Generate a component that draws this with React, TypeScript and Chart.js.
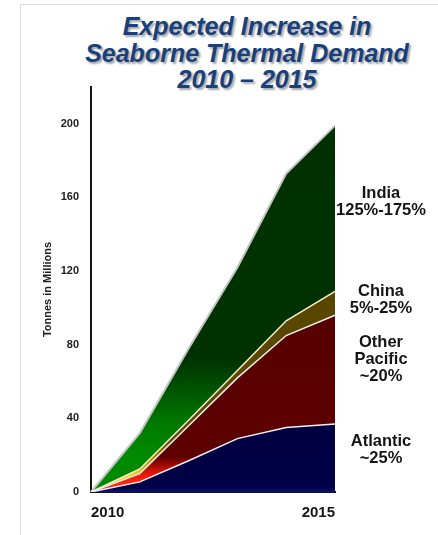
import React, { useEffect, useRef } from "react";
import { Chart, registerables } from "chart.js";

Chart.register(...registerables);

const years = ["2010", "2011", "2012", "2013", "2014", "2015"];
const atlantic = [0, 5.5, 17, 29, 35, 37];
const otherPacific = [0, 4.5, 19, 33, 50, 59];
const china = [0, 2.5, 3, 4, 8, 13];
const india = [0, 19.5, 39, 56, 80, 90];
const yMax = 220;
const yStep = 40;
const titleLines = ["Expected Increase in", "Seaborne Thermal Demand", "2010 – 2015"];
const yTitle = "Tonnes in Millions";
const indiaLabel = ["India", "125%-175%"];
const chinaLabel = ["China", "5%-25%"];
const otherLabel = ["Other", "Pacific", "~20%"];
const atlanticLabel = ["Atlantic", "~25%"];

const FONT = "'Liberation Sans', Arial, sans-serif";

function vGrad(chart: any, stops: [number, string][]) {
  const { ctx, chartArea, scales } = chart;
  if (!chartArea || !scales.y) return stops[stops.length - 1][1];
  const y = scales.y;
  const y0 = y.getPixelForValue(stops[0][0]);
  const y1 = y.getPixelForValue(stops[stops.length - 1][0]);
  const g = ctx.createLinearGradient(0, y0, 0, y1);
  stops.forEach(([v, c]) => {
    const t = (y.getPixelForValue(v) - y0) / (y1 - y0);
    g.addColorStop(Math.min(1, Math.max(0, t)), c);
  });
  return g;
}

export default function App() {
  const ref = useRef<HTMLCanvasElement | null>(null);

  useEffect(() => {
    if (!ref.current) return;
    const chart = new Chart(ref.current, {
      type: "line",
      data: {
        labels: years,
        datasets: [
          {
            label: "Atlantic",
            data: atlantic,
            fill: "origin",
            backgroundColor: (c: any) =>
              vGrad(c.chart, [
                [0, "#0a1478"],
                [2.5, "#000046"],
                [40, "#000040"],
              ]),
            borderColor: "#eeeeee",
            borderWidth: 1.5,
          },
          {
            label: "Other Pacific",
            data: otherPacific,
            fill: "-1",
            backgroundColor: (c: any) =>
              vGrad(c.chart, [
                [4, "#ff2a10"],
                [9, "#f01a08"],
                [19, "#5e0000"],
                [100, "#550000"],
              ]),
            borderColor: "#eeeeee",
            borderWidth: 1.5,
          },
          {
            label: "China",
            data: china,
            fill: "-1",
            backgroundColor: (c: any) =>
              vGrad(c.chart, [
                [9, "#ffd21a"],
                [14, "#d6a800"],
                [28, "#5c4a00"],
                [110, "#584600"],
              ]),
            borderColor: "#f2eed0",
            borderWidth: 1.5,
          },
          {
            label: "India",
            data: india,
            fill: "-1",
            backgroundColor: (c: any) =>
              vGrad(c.chart, [
                [20, "#008a00"],
                [38, "#007800"],
                [72, "#003200"],
                [200, "#003000"],
              ]),
            borderColor: "#c4c4c4",
            borderWidth: 2,
          },
        ],
      },
      options: {
        animation: false,
        responsive: false,
        layout: { padding: { left: 0, right: 103, top: 87, bottom: 0 } },
        elements: { point: { radius: 0 }, line: { tension: 0 } },
        plugins: {
          legend: { display: false },
          tooltip: { enabled: false },
          title: { display: false },
        },
        scales: {
          x: {
            type: "category",
            offset: false,
            grid: { display: false, drawTicks: false },
            border: { display: true, color: "#151515", width: 2 },
            ticks: {
              autoSkip: false,
              maxRotation: 0,
              align: "inner",
              padding: 12,
              color: "#151515",
              font: { family: FONT, size: 15, weight: "bold" },
              callback: (v: any, i: number) =>
                i === 0 || i === years.length - 1 ? years[i] : "",
            },
            afterFit: (s: any) => {
              s.height = 43;
            },
          },
          y: {
            stacked: true,
            min: 0,
            max: yMax,
            grid: { display: false, drawTicks: false },
            border: { display: true, color: "#151515", width: 2 },
            ticks: {
              stepSize: yStep,
              includeBounds: false,
              padding: 12,
              color: "#222",
              font: { family: FONT, size: 11, weight: "bold" },
            },
            title: {
              display: true,
              text: yTitle,
              color: "#222",
              font: { family: FONT, size: 11, weight: "bold" },
              padding: { top: 41, bottom: 0 },
            },
            afterFit: (s: any) => {
              s.width = 91;
            },
          },
        },
      } as any,
    });
    return () => chart.destroy();
  }, []);

  const labelStyle = (top: number): React.CSSProperties => ({
    position: "absolute",
    left: 331,
    width: 100,
    top,
    textAlign: "center",
    fontFamily: FONT,
    fontWeight: "bold",
    fontSize: 16.5,
    lineHeight: "17px",
    color: "#151515",
    whiteSpace: "nowrap",
  });

  const block = (lines: string[], top: number) => (
    <div style={labelStyle(top)}>
      {lines.map((l, i) => (
        <div key={i}>{l}</div>
      ))}
    </div>
  );

  return (
    <div
      style={{
        position: "fixed",
        left: 0,
        top: 0,
        width: 438,
        height: 535,
        background: "#fff",
        overflow: "hidden",
      }}
    >
      <div
        style={{
          position: "absolute",
          left: 20,
          top: 4,
          right: -2,
          bottom: -2,
          borderLeft: "1px solid #dcdcdc",
          borderTop: "1px solid #dcdcdc",
        }}
      />
      <div
        style={{
          position: "absolute",
          left: 47,
          width: 400,
          top: 13,
          textAlign: "center",
          fontFamily: FONT,
          fontWeight: "bold",
          fontStyle: "italic",
          fontSize: 25,
          lineHeight: "26.5px",
          color: "#17407c",
          textShadow: "2px 2px 2px rgba(0,0,0,0.35)",
          whiteSpace: "nowrap",
        }}
      >
        {titleLines.map((l, i) => (
          <div key={i}>{l}</div>
        ))}
      </div>
      <canvas
        ref={ref}
        width={438}
        height={535}
        style={{ position: "absolute", left: 0, top: 0, width: 438, height: 535 }}
      />
      {block(indiaLabel, 183.5)}
      {block(chinaLabel, 281.5)}
      {block(otherLabel, 332.5)}
      {block(atlanticLabel, 431.5)}
    </div>
  );
}
